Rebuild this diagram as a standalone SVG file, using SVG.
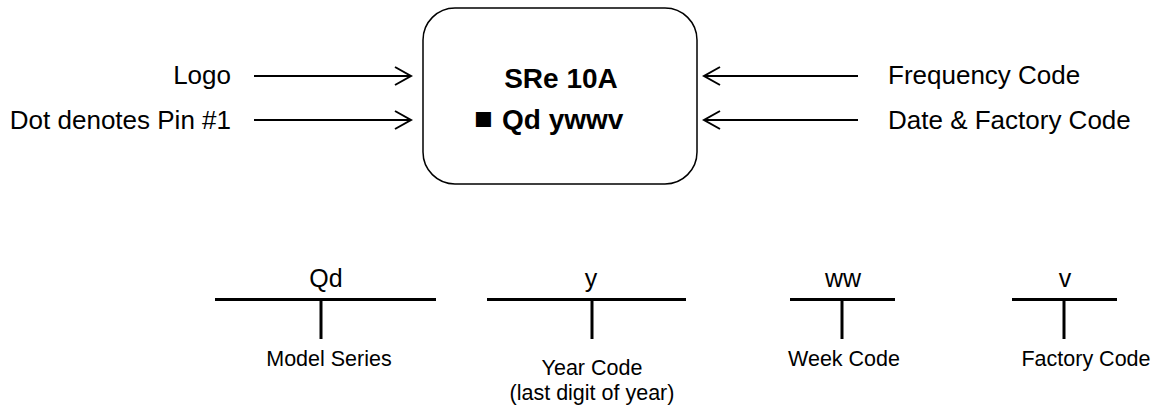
<svg xmlns="http://www.w3.org/2000/svg" width="1168" height="410" viewBox="0 0 1168 410">
<style>
text{font-family:"Liberation Sans",Arial,sans-serif;fill:#000}
.lbl{font-size:26px}
.b{font-size:28px;font-weight:bold}
.code{font-size:25px}
.sub{font-size:21.5px}
.arr{stroke:#000;stroke-width:2;fill:none}
.bar{stroke:#000;stroke-width:3;fill:none}
</style>
<defs>
<marker id="ah" viewBox="0 0 20 20" refX="18" refY="10" markerWidth="20" markerHeight="20" markerUnits="userSpaceOnUse" orient="auto">
<path d="M2,1 L18,10 L2,19" fill="none" stroke="#000" stroke-width="2"/>
</marker>
</defs>
<rect width="1168" height="410" fill="#fff"/>
<g id="chip">
<rect x="423" y="8" width="274" height="176" rx="32" ry="32" fill="#fff" stroke="#000" stroke-width="1.5"/>
<text class="b" x="561" y="88" text-anchor="middle">SRe 10A</text>
<text class="b" x="474" y="129"><tspan font-size="31">■ </tspan><tspan x="502">Qd ywwv</tspan></text>
</g>
<g id="labels">
<text class="lbl" x="231" y="84" text-anchor="end">Logo</text>
<text class="lbl" x="231" y="129" text-anchor="end">Dot denotes Pin #1</text>
<text class="lbl" x="888" y="84">Frequency Code</text>
<text class="lbl" x="888" y="129">Date &amp; Factory Code</text>
</g>
<g id="connectors">
<line class="arr" x1="254" y1="76" x2="411" y2="76" marker-end="url(#ah)"/>
<line class="arr" x1="254" y1="120" x2="411" y2="120" marker-end="url(#ah)"/>
<line class="arr" x1="858" y1="76" x2="704" y2="76" marker-end="url(#ah)"/>
<line class="arr" x1="858" y1="120" x2="704" y2="120" marker-end="url(#ah)"/>
</g>
<g id="qd">
<text class="code" x="326" y="287" text-anchor="middle">Qd</text>
<line class="bar" x1="215" y1="299.5" x2="436" y2="299.5"/>
<line class="bar" x1="321" y1="299.5" x2="321" y2="339"/>
<text class="sub" x="329" y="366" text-anchor="middle">Model Series</text>
</g>
<g id="y">
<text class="code" x="591" y="287" text-anchor="middle">y</text>
<line class="bar" x1="487" y1="299.5" x2="686" y2="299.5"/>
<line class="bar" x1="592" y1="299.5" x2="592" y2="339"/>
<text class="sub" x="592" y="375" text-anchor="middle">Year Code</text>
<text class="sub" x="592" y="400" text-anchor="middle">(last digit of year)</text>
</g>
<g id="ww">
<text class="code" x="843" y="287" text-anchor="middle">ww</text>
<line class="bar" x1="790" y1="299.5" x2="895" y2="299.5"/>
<line class="bar" x1="842" y1="299.5" x2="842" y2="339"/>
<text class="sub" x="844" y="366" text-anchor="middle">Week Code</text>
</g>
<g id="v">
<text class="code" x="1065" y="287" text-anchor="middle">v</text>
<line class="bar" x1="1012" y1="299.5" x2="1117" y2="299.5"/>
<line class="bar" x1="1064" y1="299.5" x2="1064" y2="339"/>
<text class="sub" x="1086" y="366" text-anchor="middle">Factory Code</text>
</g>
</svg>
